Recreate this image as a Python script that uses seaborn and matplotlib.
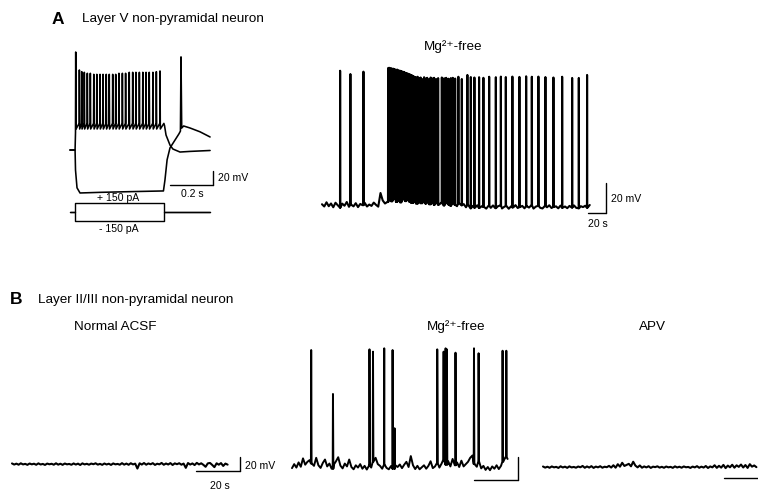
import numpy as np
import pandas as pd
import matplotlib
matplotlib.use("Agg")
import matplotlib.pyplot as plt
import seaborn as sns

# ---------------- DATA ----------------
# Panel A left: current-step responses (time in s, membrane potential in mV)
dep_spike_t = [0.008, 0.025, 0.036, 0.048, 0.062, 0.076, 0.092, 0.106, 0.121, 0.135,
               0.150, 0.164, 0.180, 0.194, 0.209, 0.225, 0.240, 0.257, 0.273, 0.288,
               0.304, 0.320, 0.335, 0.350, 0.367, 0.383, 0.400]
dep_spike_peak = [75.0, 49.3, 46.9, 46.0, 44.6, 44.6, 43.1, 43.1, 43.1, 43.1,
                  43.1, 43.1, 43.1, 43.1, 44.6, 44.6, 44.6, 46.0, 46.0, 46.0,
                  46.0, 46.0, 46.0, 46.0, 46.0, 46.9, 47.9]
dep_threshold = -27.0
dep_ahp = -35.0
dep_pre_t = [-0.019, 0.005, 0.007]
dep_pre_v = [-65.0, -65.0, -40.0]
dep_post_t = [0.418, 0.421, 0.428, 0.4465, 0.46, 0.493, 0.54, 0.633]
dep_post_v = [-27.0, -30.0, -43.6, -58.0, -63.6, -67.9, -67.0, -65.7]

hyp_t = [-0.019, 0.005, 0.007, 0.014, 0.028, 0.121, 0.26, 0.416, 0.423, 0.433, 0.4465,
         0.47, 0.488, 0.495, 0.4977, 0.501, 0.51, 0.54, 0.586, 0.633]
hyp_v = [-65.0, -65.0, -93.6, -119.0, -126.4, -125.5, -124.5, -123.5, -108.0, -79.0,
         -62.0, -50.7, -42.0, -38.0, 68.0, -33.6, -30.7, -33.6, -39.0, -46.4]

# injected current steps (pA)
step_t = [-0.019, 0.005, 0.005, 0.42, 0.42, 0.633]
step_amps = [150, -150]

# Panel A right: Mg2+-free recording (2.5 s samples of baseline, mV)
a_right_dt = 2.5
a_right_base = [-64.5, -66.0, -63.2, -65.8, -64.0, -66.5, -63.5, -65.2, -66.8, -64.1,
                -65.5, -63.0, -66.2, -64.8, -65.9, -63.8, -66.4, -64.3, -65.1, -63.6,
                -66.0, -64.7, -65.6, -63.4, -64.9, -66.1, -57.0, -62.0, -64.0,
                -63.0, -61.0, -62.5, -60.8, -62.9, -61.5, -63.2, -61.1, -62.4, -60.9, -62.7,
                -63.5, -61.8, -64.0, -62.2, -63.8, -62.5, -64.2, -62.9,
                -64.5, -62.8, -65.0, -63.2, -64.8, -63.5, -65.3, -63.1, -64.6, -65.5,
                -63.7, -64.9, -65.8, -63.9, -65.2, -64.4,
                -66.5, -65.0, -67.2, -65.6, -66.8, -65.2, -67.0, -65.8, -66.3, -67.4,
                -65.5, -66.9, -65.3, -67.1, -66.0, -65.4, -67.3, -66.2, -65.7, -67.5,
                -65.9, -66.6, -65.1, -67.0, -66.4, -65.6, -67.2, -65.8, -66.7, -65.3,
                -67.4, -66.1, -65.5, -66.9, -67.3, -65.7, -66.5, -65.2, -67.0, -66.3,
                -65.9, -67.2, -65.4, -66.8, -66.0, -67.1, -65.6, -66.7, -65.3, -66.9,
                -67.2, -65.8, -66.4, -65.5, -66.8, -65.0]
a_right_spike_t = [20.0, 31.4, 45.9,
                   73.3, 74.4, 75.6, 76.7, 77.8, 78.9, 80.0, 81.1, 82.2, 83.3, 84.4, 85.6,
                   86.7, 87.8, 88.9, 90.0, 91.1, 92.2, 93.3, 94.4, 95.6, 96.7, 97.8, 98.9,
                   100.0, 101.1, 102.2, 103.3, 104.4,
                   106.1, 107.8, 109.4, 111.1, 113.3, 115.0, 116.7, 118.9, 120.6, 122.8,
                   124.4, 126.7, 128.9,
                   133.0, 135.6, 137.8, 140.3, 143.0, 145.2, 147.8, 151.4, 155.2, 161.4,
                   165.2, 169.2, 174.4, 179.2, 185.6, 193.0, 198.6, 204.1, 211.4, 219.2,
                   226.7, 233.0, 240.3, 248.1, 257.0, 266.7, 277.8, 285.2, 294.4]
a_right_spike_peak = [24.5, 22.3, 23.9,
                      26.3, 26.5, 26.0, 26.2, 25.8, 25.9, 25.5, 25.4, 25.0, 25.3, 24.8, 24.6,
                      24.5, 24.2, 24.0, 23.8, 23.7, 23.2, 23.0, 22.8, 22.5, 22.1, 22.0, 21.6,
                      21.4, 21.0, 20.6, 20.3, 20.0,
                      20.5, 19.5, 20.0, 19.0, 20.2, 19.3, 19.8, 18.9, 20.0, 19.4,
                      19.8, 19.0, 19.6,
                      20.0, 19.5, 19.8, 19.2, 19.6, 19.8, 19.3, 20.5, 19.0, 21.7,
                      20.3, 20.0, 20.2, 19.8, 20.5, 20.2, 20.6, 20.3, 20.6, 20.4,
                      20.8, 20.5, 20.6, 20.3, 20.0, 20.5, 19.7, 19.7, 21.7]

# Panel B: 1 s samples of baseline (mV)
b_dt = 1.0
b_normal_base = [-64.2, -65.8, -64.5, -66.0, -64.0, -65.6, -64.8, -66.2, -64.3, -65.5,
                 -64.6, -66.1, -64.1, -65.7, -64.9, -66.3, -64.4, -65.4, -64.7, -66.0,
                 -64.0, -65.9, -64.6, -66.2, -64.3, -65.5, -64.9, -66.1, -64.2, -65.8,
                 -64.5, -66.4, -64.1, -65.6, -64.7, -66.0, -64.4, -65.3, -64.0, -65.9,
                 -64.8, -66.2, -64.3, -65.7, -64.6, -66.3, -64.2, -65.5, -64.9, -66.0,
                 -63.8, -65.9, -64.4, -66.1, -63.9, -65.6, -64.5, -71.5, -64.0, -65.8,
                 -63.6, -66.0, -64.2, -65.4, -63.8, -66.3, -64.6, -65.5, -63.5, -66.1,
                 -64.3, -65.7, -63.7, -66.4, -64.1, -65.3, -63.9, -66.0, -64.4, -70.5,
                 -63.6, -65.8, -64.2, -66.5, -63.4, -65.6, -64.0, -66.2, -69.0, -64.1,
                 -63.5, -66.3, -69.5, -64.0, -66.0, -63.7, -67.8, -64.4, -65.9]
b_mg_base = [-66.0, -62.5, -65.5, -61.0, -64.8, -57.5, -63.0, -60.5, -59.0, -62.0,
             -64.0, -57.0, -63.5, -65.8, -61.5, -58.5, -64.5, -62.0, -66.5, -63.0,
             -60.0, -56.5, -63.8, -66.2, -62.0, -64.5, -58.5, -65.0, -67.0, -63.5,
             -65.5, -62.5, -66.5, -64.0, -67.2, -63.8, -65.5, -60.5, -57.0, -62.5,
             -64.0, -66.5, -63.0, -65.8, -67.0, -64.2, -66.5, -63.5, -65.0, -62.8,
             -66.0, -63.0, -60.5, -65.0, -55.5, -63.5, -66.8, -64.0, -67.0, -65.2,
             -63.5, -66.5, -64.0, -60.0, -66.0, -64.5, -61.5, -65.5, -62.0, -58.5,
             -63.0, -60.0, -64.5, -58.0, -63.5, -61.0, -65.0, -59.5, -64.5, -62.5,
             -60.5, -57.0, -55.0, -62.5, -64.8, -60.0, -66.2, -64.0, -67.5, -65.0,
             -67.8, -64.5, -66.5, -63.5, -66.8, -64.0, -60.5, -56.5, -58.0]
b_mg_spike_t = [8.6, 18.5, 35.1, 36.7, 41.8, 45.6, 46.5, 65.9, 68.8, 69.7, 70.3,
                74.2, 82.6, 84.7, 95.6, 97.3]
b_mg_spike_peak = [36.7, -1.5, 37.3, 35.3, 38.2, 36.7, -31.3, 37.3, 35.3, 38.2, 37.3,
                   34.4, 38.2, 33.9, 36.1, 36.1]
b_apv_base = [-64.3, -65.9, -64.6, -66.1, -64.2, -65.5, -64.8, -66.3, -64.0, -65.7,
              -64.5, -66.2, -64.1, -65.6, -64.9, -66.0, -64.3, -65.4, -63.5, -66.1,
              -64.2, -65.8, -63.8, -66.3, -64.4, -65.5, -63.9, -66.0, -64.6, -65.3,
              -63.4, -65.8, -62.5, -66.0, -61.0, -64.5, -59.0, -63.5, -62.0, -60.5,
              -64.0, -57.5, -63.0, -65.5, -62.8, -66.0, -64.2, -65.6, -63.9, -66.3,
              -64.5, -65.2, -64.0, -65.9, -64.7, -66.1, -64.3, -65.5, -64.8, -66.2,
              -64.1, -65.7, -64.6, -66.0, -64.2, -65.4, -64.9, -66.3, -64.4, -65.6,
              -63.8, -66.1, -64.5, -65.8, -63.6, -66.4, -64.2, -65.5, -62.5, -66.2,
              -63.3, -65.9, -62.0, -66.6, -63.0, -65.4, -61.8, -66.0, -62.6, -64.8,
              -61.5, -65.7, -62.2, -66.3, -61.0, -64.5, -62.8, -65.2]

# scale bars
bar_time_a_left = 0.2   # s
bar_time = 20           # s
bar_mv = 20             # mV

# ---------------- FIGURE ----------------
W, H = 758, 493
sns.set_theme(style="white")
plt.rcParams["font.family"] = ["Liberation Sans", "DejaVu Sans"]
plt.rcParams["text.color"] = "black"
fig = plt.figure(figsize=(W / 100, H / 100), dpi=100)
fig.patch.set_facecolor("white")

LW = 1.0
K = "black"


def panel(box, xref, xscale, yref, yscale):
    """box = (left, right, top, bottom) in pixels; ref = (pixel, value)."""
    l, r, t, b = box
    ax = fig.add_axes([l / W, 1 - b / H, (r - l) / W, (b - t) / H])
    ax.set_xlim(xref[1] + (l - xref[0]) / xscale, xref[1] + (r - xref[0]) / xscale)
    ax.set_ylim(yref[1] - (b - yref[0]) / yscale, yref[1] + (yref[0] - t) / yscale)
    ax.axis("off")
    return ax


def trace(ax, t, v, lw=LW):
    sns.lineplot(x=np.asarray(t, float), y=np.asarray(v, float), ax=ax, color=K,
                 lw=lw, estimator=None, sort=False, legend=False)


def build(base, dt, spike_t, spike_peak, width):
    bt = np.arange(len(base)) * dt
    bv = np.asarray(base, float)
    pts = list(zip(bt, bv))
    for st, sp in zip(spike_t, spike_peak):
        b0 = bv[np.argmin(np.abs(bt - st))]
        pts += [(st, b0), (st + width * 0.4, sp), (st + width, b0)]
    pts.sort(key=lambda p: p[0])
    arr = np.array(pts)
    return arr[:, 0], arr[:, 1]


def scalebar(ax, x0, y0, dx, dy, horizontal=True, vertical=True):
    if horizontal:
        ax.plot([x0, x0 + dx], [y0, y0], color=K, lw=LW)
    if vertical:
        ax.plot([x0 + dx, x0 + dx], [y0, y0 + dy], color=K, lw=LW)


def ftext(px, py, s, **kw):
    kw.setdefault("va", "center")
    kw.setdefault("color", "black")
    fig.text(px / W, 1 - py / H, s, **kw)


# ---- Panel A left: voltage ----
axA = panel((55, 245, 40, 200), (74, 0.0), 215.0, (150, -65.0), 0.7)
dep_t = list(dep_pre_t)
dep_v = list(dep_pre_v)
for st, sp in zip(dep_spike_t, dep_spike_peak):
    dep_t += [st - 0.001, st, st + 0.0015]
    dep_v += [dep_threshold, sp, dep_ahp]
dep_t += dep_post_t
dep_v += dep_post_v
trace(axA, dep_t, dep_v, lw=1.15)
trace(axA, hyp_t, hyp_v, lw=1.15)
scalebar(axA, 0.4465, -115.0, bar_time_a_left, bar_mv)

# ---- Panel A left: current ----
axI = panel((55, 245, 196, 232), (74, 0.0), 215.0, (212, 0.0), 0.06)
for amp in step_amps:
    trace(axI, step_t, [0, 0, amp, amp, 0, 0])

# ---- Panel A right ----
axR = panel((305, 640, 55, 230), (322, 0.0), 0.9, (205, -65.0), 1.5)
tr, vr = build(a_right_base, a_right_dt, a_right_spike_t, a_right_spike_peak, 0.35)
trace(axR, tr, vr, lw=1.5)
scalebar(axR, 295.6, -70.3, bar_time, bar_mv)

# ---- Panel B ----
axB1 = panel((5, 262, 330, 492), (12, 0.0), 2.2, (464, -65.0), 0.7)
t1, v1 = build(b_normal_base, b_dt, [], [], 0.3)
trace(axB1, t1, v1, lw=1.5)
scalebar(axB1, 83.6, -74.6, bar_time, bar_mv)

axB2 = panel((285, 528, 330, 492), (292, 0.0), 2.2, (467, -65.0), 1.15)
t2, v2 = build(b_mg_base, b_dt, b_mg_spike_t, b_mg_spike_peak, 0.3)
trace(axB2, t2, v2, lw=1.4)
scalebar(axB2, 82.9, -75.9, bar_time, bar_mv)

axB3 = panel((535, 758, 330, 492), (543, 0.0), 2.2, (467, -65.0), 0.7)
t3, v3 = build(b_apv_base, b_dt, [], [], 0.3)
trace(axB3, t3, v3, lw=1.5)
scalebar(axB3, 82.4, -81.1, bar_time, bar_mv)

# ---------------- TEXT ----------------
FS = 9.7
SS = 7.6
ftext(52, 19, "A", fontsize=12.5, fontweight="bold")
ftext(82, 19, "Layer V non-pyramidal neuron", fontsize=FS)
ftext(453, 47, "Mg²⁺-free", fontsize=FS, ha="center")
ftext(218, 178, "20 mV", fontsize=SS)
ftext(192, 194, "0.2 s", fontsize=SS, ha="center")
ftext(118, 198, "+ 150 pA", fontsize=SS, ha="center")
ftext(119, 229, "- 150 pA", fontsize=SS, ha="center")
ftext(611, 199, "20 mV", fontsize=SS)
ftext(598, 224, "20 s", fontsize=SS, ha="center")

ftext(10, 300, "B", fontsize=12.5, fontweight="bold")
ftext(38, 300, "Layer II/III non-pyramidal neuron", fontsize=FS)
ftext(115, 327, "Normal ACSF", fontsize=FS, ha="center")
ftext(456, 327, "Mg²⁺-free", fontsize=FS, ha="center")
ftext(652, 327, "APV", fontsize=FS, ha="center")
ftext(245, 466, "20 mV", fontsize=SS)
ftext(220, 486, "20 s", fontsize=SS, ha="center")

fig.savefig("out.png", dpi=100, facecolor="white")
